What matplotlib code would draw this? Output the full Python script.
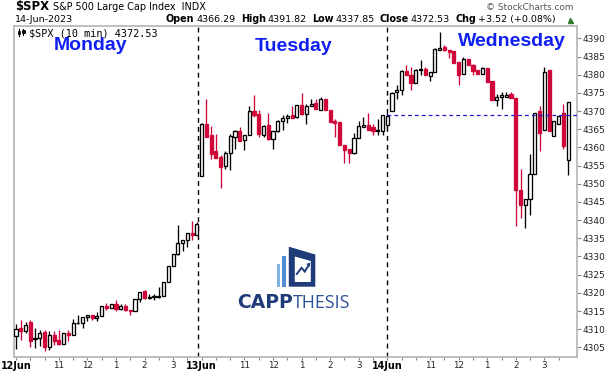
import matplotlib
matplotlib.use("Agg")
import matplotlib.pyplot as plt
from matplotlib.patches import Polygon, Rectangle
from matplotlib.lines import Line2D
import numpy as np

# ---------------- data ----------------
days = ["12Jun", "13Jun", "14Jun"]
day_names = ["Monday", "Tuesday", "Wednesday"]
hour_labels = ["11", "12", "1", "2", "3"]

mon_open = [4308.0, 4310.3, 4309.4, 4311.9, 4307.2, 4307.7, 4309.1, 4305.2, 4308.5, 4307.1, 4305.9, 4309.0, 4308.5,
            4311.6, 4311.7, 4313.4, 4314.0, 4313.2, 4313.7, 4316.5, 4315.9, 4317.0, 4315.5, 4316.5, 4315.4, 4315.1,
            4318.4, 4320.5, 4318.7, 4318.9, 4318.9, 4319.1, 4322.9, 4327.3, 4330.8, 4333.7, 4334.6, 4336.5, 4336.0]
mon_high = [4311.3, 4312.4, 4312.0, 4312.4, 4310.3, 4309.7, 4309.7, 4309.6, 4309.4, 4309.7, 4309.0, 4309.7, 4312.7,
            4314.0, 4313.4, 4314.0, 4314.0, 4314.6, 4316.5, 4317.3, 4317.0, 4317.9, 4317.0, 4317.0, 4315.4, 4318.4,
            4320.3, 4320.8, 4319.8, 4319.8, 4321.7, 4323.1, 4327.3, 4330.8, 4338.6, 4334.6, 4336.5, 4339.7, 4339.4]
mon_low = [4304.6, 4307.1, 4309.0, 4305.1, 4304.8, 4305.4, 4304.0, 4304.3, 4305.7, 4305.7, 4305.8, 4306.8, 4308.5,
           4311.5, 4310.3, 4312.2, 4312.6, 4312.2, 4313.6, 4315.4, 4315.9, 4314.9, 4315.2, 4314.9, 4313.9, 4315.1,
           4317.5, 4318.3, 4318.2, 4318.1, 4318.7, 4319.1, 4322.9, 4327.3, 4330.3, 4331.5, 4332.6, 4334.4, 4336.0]
mon_close = [4310.1, 4309.4, 4311.2, 4306.8, 4307.7, 4309.0, 4305.1, 4308.5, 4306.8, 4305.9, 4309.0, 4308.4, 4311.8,
             4311.8, 4313.4, 4314.0, 4313.1, 4313.7, 4316.5, 4315.8, 4317.0, 4315.5, 4316.4, 4315.3, 4315.1, 4318.4,
             4320.3, 4318.6, 4318.8, 4319.0, 4319.1, 4322.9, 4327.3, 4330.8, 4333.7, 4334.6, 4336.5, 4335.9, 4338.9]

tue_open = [4352.1, 4366.5, 4363.3, 4358.9, 4357.3, 4354.9, 4358.6, 4362.9, 4364.6, 4362.1, 4363.5, 4369.9, 4369.1,
            4363.4, 4366.3, 4362.3, 4364.4, 4367.4, 4368.2, 4368.8, 4368.4, 4371.8, 4369.3, 4371.5, 4372.2, 4370.4,
            4373.4, 4370.4, 4367.3, 4366.9, 4360.6, 4359.5, 4358.5, 4362.7, 4365.6, 4366.2, 4365.5, 4364.6, 4364.6]
tue_high = [4366.8, 4373.2, 4365.8, 4363.6, 4357.8, 4358.9, 4363.6, 4364.8, 4365.5, 4363.5, 4371.5, 4374.3, 4370.2,
            4366.1, 4369.6, 4364.6, 4367.6, 4368.8, 4369.3, 4371.3, 4371.8, 4375.1, 4372.0, 4373.3, 4373.2, 4374.0,
            4373.4, 4370.4, 4367.9, 4366.9, 4360.6, 4359.5, 4364.1, 4367.2, 4368.5, 4369.4, 4366.5, 4367.9, 4369.0]
tue_low = [4352.1, 4362.9, 4356.9, 4357.1, 4348.8, 4354.1, 4353.8, 4359.5, 4361.8, 4359.3, 4363.5, 4368.5, 4362.9,
           4362.9, 4362.1, 4359.6, 4364.2, 4364.8, 4366.7, 4368.2, 4368.2, 4368.8, 4366.4, 4371.5, 4370.6, 4370.4,
           4370.4, 4367.0, 4362.9, 4360.7, 4355.7, 4355.7, 4358.2, 4362.7, 4365.6, 4364.7, 4363.3, 4363.3, 4363.3]
tue_close = [4366.5, 4362.9, 4358.1, 4357.1, 4354.6, 4358.6, 4363.2, 4364.6, 4361.9, 4363.5, 4370.1, 4368.8, 4363.6,
             4366.0, 4362.3, 4364.6, 4367.4, 4368.2, 4368.7, 4368.2, 4371.8, 4369.3, 4371.5, 4372.0, 4370.6, 4373.4,
             4370.4, 4367.0, 4366.7, 4360.7, 4359.2, 4358.5, 4362.7, 4366.0, 4366.2, 4364.7, 4364.5, 4364.7, 4369.0]

wed_open = [4366.3, 4369.9, 4375.3, 4375.9, 4381.1, 4380.0, 4377.8, 4381.4, 4381.7, 4379.7, 4380.8, 4386.9, 4387.7,
            4386.7, 4386.4, 4383.5, 4380.3, 4384.4, 4382.7, 4381.4, 4380.3, 4381.9, 4378.2, 4373.1, 4373.9, 4373.9,
            4374.6, 4373.7, 4348.2, 4344.1, 4345.9, 4352.8, 4369.9, 4364.7, 4381.2, 4363.2, 4366.5, 4369.6, 4356.6]
wed_high = [4369.6, 4375.3, 4377.1, 4381.4, 4382.7, 4382.1, 4381.6, 4384.1, 4382.1, 4380.8, 4387.4, 4391.8, 4388.3,
            4386.9, 4386.4, 4383.5, 4384.9, 4384.4, 4383.0, 4381.4, 4382.2, 4381.9, 4378.2, 4374.6, 4375.3, 4375.3,
            4375.3, 4373.7, 4354.1, 4345.9, 4358.3, 4369.6, 4371.3, 4382.1, 4381.4, 4367.4, 4368.6, 4371.9, 4372.5]
wed_low = [4365.5, 4369.9, 4373.4, 4374.5, 4380.0, 4375.9, 4377.8, 4380.0, 4380.0, 4378.4, 4380.8, 4386.9, 4386.4,
           4384.7, 4383.2, 4377.2, 4380.3, 4382.6, 4379.8, 4380.3, 4380.3, 4378.0, 4373.1, 4371.5, 4370.6, 4373.9,
           4373.7, 4338.5, 4340.7, 4337.85, 4341.5, 4352.6, 4359.0, 4364.7, 4364.5, 4363.2, 4366.5, 4359.6, 4352.5]
wed_close = [4368.6, 4375.05, 4375.9, 4381.1, 4380.0, 4377.8, 4381.4, 4381.7, 4380.0, 4380.8, 4387.2, 4387.3, 4386.7,
             4386.2, 4383.2, 4380.0, 4384.4, 4382.6, 4381.0, 4380.3, 4381.9, 4378.0, 4373.1, 4373.9, 4374.4, 4374.4,
             4373.7, 4348.2, 4344.1, 4345.9, 4352.8, 4369.6, 4364.0, 4380.7, 4364.5, 4367.4, 4368.6, 4360.4, 4372.53]

prev_close = 4369.01
y_ticks = list(range(4305, 4391, 5))

# ---------------- figure ----------------
W, H = 605, 371
fig = plt.figure(figsize=(W / 100, H / 100), dpi=100)
fig.patch.set_facecolor("white")

def fx(x):
    return x / W

def fy(y):
    return 1 - y / H

ax_l, ax_r, ax_t, ax_b = 14, 577, 26, 357.0
ax = fig.add_axes([fx(ax_l), fy(ax_b), (ax_r - ax_l) / W, (ax_b - ax_t) / H])

opens = np.array(mon_open + tue_open + wed_open)
highs = np.array(mon_high + tue_high + wed_high)
lows = np.array(mon_low + tue_low + wed_low)
closes = np.array(mon_close + tue_close + wed_close)
n = len(opens)
xs = np.arange(n)
bars_per_day = len(mon_open)

RED = "#d0073a"
up = closes >= opens
wick_colors = ["black" if u else RED for u in up]
ax.vlines(xs, lows, highs, colors=wick_colors, linewidth=0.95, zorder=2)
body_bottom = np.minimum(opens, closes)
body_h = np.maximum(np.abs(closes - opens), 0.08)
face = ["white" if u else RED for u in up]
edge = ["black" if u else RED for u in up]
ax.bar(xs, body_h, bottom=body_bottom, width=0.66, color=face, edgecolor=edge,
       linewidth=0.95, zorder=3)

xmin, xmax = -0.42, 117.86
ax.set_xlim(xmin, xmax)
ax.set_ylim(4302.35, 4393.4)

# day separators
for sx in [38.2, 78.0]:
    ax.axvline(sx, color="black", linewidth=1.0, linestyle=(0, (3.5, 3)), zorder=1)
# previous close line
ax.hlines(prev_close, 78.0, xmax, colors="#1b1bcc", linewidth=0.9, linestyles=(0, (3, 2.5)), zorder=4)

# spines
for s in ax.spines.values():
    s.set_color("#b4b4b4")
    s.set_linewidth(1.2)

# y axis
ax.yaxis.tick_right()
ax.set_yticks(y_ticks)
ax.set_yticklabels([str(v) for v in y_ticks])
ax.tick_params(axis="y", which="both", right=True, left=False, length=3, width=0.8,
               color="#888888", labelsize=6.5, pad=1, labelcolor="#222222")

# x axis
major_pos, major_lab = [], []
for d in range(len(days)):
    base = d * bars_per_day
    major_pos.append(base)
    major_lab.append(days[d])
    for k, hl in enumerate(hour_labels):
        major_pos.append(base + 9 + 6 * k)
        major_lab.append(hl)
ax.set_xticks(major_pos)
ax.set_xticklabels(major_lab)
minor_pos = [p for p in range(0, n, 3) if p not in major_pos]
ax.set_xticks(minor_pos, minor=True)
ax.tick_params(axis="x", which="both", length=2, width=0.8, color="#888888", pad=0.6,
               labelsize=6.3, labelcolor="#222222")
for t in ax.get_xticklabels():
    if t.get_text() in days:
        t.set_fontweight("bold")
        t.set_fontsize(6.9)
        t.set_color("black")
first_lbl = ax.get_xticklabels()[0]
first_lbl.set_x(0.35)

# day name labels
day_name_pos = [(54, 50.0), (255, 50.7), (458, 46.0)]
for name, (px, py) in zip(day_names, day_name_pos):
    fig.text(fx(px), fy(py), name, fontsize=14, fontweight="bold", color="#1020f0",
             family="Liberation Sans", ha="left", va="baseline")

# ---------------- header ----------------
renderer = fig.canvas.get_renderer()

def seq_text(x, y, parts, **common):
    for s, kw, gap in parts:
        opts = dict(common)
        opts.update(kw)
        t = fig.text(fx(x), fy(y), s, ha="left", va="baseline", **opts)
        bb = t.get_window_extent(renderer=renderer)
        x += bb.width + gap
    return x

seq_text(15, 10.2, [("$SPX", dict(fontweight="bold", fontsize=8.4), 4),
                    ("S&P 500 Large Cap Index  INDX", dict(fontsize=6.9), 0)], color="black")
fig.text(fx(574), fy(10.0), "\u00a9 StockCharts.com", fontsize=6.4, color="#555555",
         ha="right", va="baseline")
fig.text(fx(15), fy(21.8), "14-Jun-2023", fontsize=6.8, color="black", ha="left", va="baseline")
B = dict(fontweight="bold", fontsize=6.9)
N = dict(fontsize=6.8)
seq_text(166, 21.8, [("Open", B, 2), ("4366.29", N, 5), ("High", B, 2), ("4391.82", N, 5),
                     ("Low", B, 2), ("4337.85", N, 5), ("Close", B, 2), ("4372.53", N, 5),
                     ("Chg", B, 2), ("+3.52 (+0.08%)", N, 0)], color="black")
fig.add_artist(Line2D([fx(570)], [fy(19.5)], marker="^", markersize=3.6, color="#2e7d32",
                      linestyle="none", transform=fig.transFigure))

# legend inside chart
for (x0, y0, x1, y1, wy0, wy1) in [(17.5, 30.5, 20.2, 34.0, 28.8, 35.8), (22.0, 29.8, 24.8, 33.2, 28.8, 35.0)]:
    fig.add_artist(Line2D([fx((x0 + x1) / 2)] * 2, [fy(wy0), fy(wy1)], color="black", lw=0.8,
                          transform=fig.transFigure))
    fig.add_artist(Rectangle((fx(x0), fy(y1)), (x1 - x0) / W, (y1 - y0) / H, facecolor="black",
                             edgecolor="black", lw=0.5, transform=fig.transFigure))
fig.text(fx(29), fy(36.0), "$SPX (10 min) 4372.53", fontsize=7.3, family="DejaVu Sans Mono",
         color="black", ha="left", va="baseline")

# ---------------- logo ----------------
def poly(pts, color):
    fig.add_artist(Polygon([(fx(a), fy(b)) for a, b in pts], closed=True, facecolor=color,
                           edgecolor="none", transform=fig.transFigure))

poly([(276.7, 264), (280.2, 264), (280.2, 286.7), (276.7, 286.7)], "#7fb2e0")
poly([(282.2, 256), (286.0, 256), (286.0, 286.7), (282.2, 286.7)], "#4f8fd0")
poly([(288.8, 246.7), (315.3, 254.5), (315.3, 286.7), (288.8, 286.7)], "#1f3b78")
poly([(294.8, 256.5), (310.8, 261.0), (310.8, 282.0), (294.8, 282.0)], "white")
fig.add_artist(Line2D([fx(296.8), fx(301.5), fx(304.8), fx(308.8)],
                      [fy(274.0), fy(267.8), fy(271.6), fy(265.0)], color="#1f3b78", lw=1.4,
                      transform=fig.transFigure, solid_joinstyle="miter"))
fig.add_artist(Polygon([(fx(310.3), fy(262.5)), (fx(306.3), fy(264.0)), (fx(309.6), fy(267.0))],
                       closed=True, facecolor="#1f3b78", edgecolor="none", transform=fig.transFigure))
seq_text(236.7, 308.3, [("CAPP", dict(fontweight="bold", fontsize=13.5, color="#1f3b78"), 0.5),
                        ("THESIS", dict(fontsize=12.8, color="#2b5196", family="Open Sans"), 0)])

fig.savefig("out.png", dpi=100)
